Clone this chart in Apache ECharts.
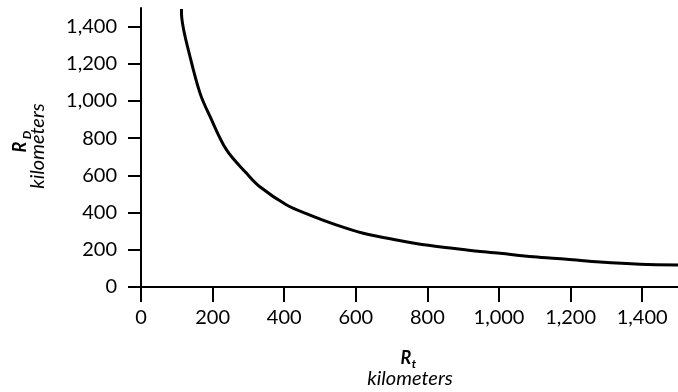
<!DOCTYPE html>
<html>
<head>
<meta charset="utf-8">
<script src="https://cdn.jsdelivr.net/npm/echarts@6/dist/echarts.min.js"></script>
<style>
html,body{margin:0;padding:0;background:#fff;}
#chart{width:678px;height:392px;}
</style>
</head>
<body>
<div id="chart"></div>
<script>
// Data
var rtKm = [113, 114, 137, 165, 193, 239, 295, 332, 407, 472, 547, 621, 714, 803, 910, 1003, 1096, 1189, 1282, 1394, 1500];
var rdKm = [1495, 1444, 1238, 1041, 916, 737, 611, 539, 441, 387, 333, 289, 253, 224, 199, 181, 162, 149, 134, 122, 118];
var xTicks = [0, 200, 400, 600, 800, 1000, 1200, 1400];
var yTicks = [0, 200, 400, 600, 800, 1000, 1200, 1400];

var FONT = 'Lato, "DejaVu Sans", sans-serif';
var points = rtKm.map(function (v, i) { return [v, rdKm[i]]; });
function fmt(v) { return String(v).replace(/\B(?=(\d{3})+(?!\d))/g, ','); }

var chart = echarts.init(document.getElementById('chart'), null, {renderer: 'canvas'});
chart.setOption({
  animation: false,
  backgroundColor: '#fff',
  grid: {left: 141, right: -5, top: 8, bottom: 105, containLabel: false},
  xAxis: {
    type: 'value', min: 0, max: 1500, interval: 200,
    axisLine: {show: true, onZero: false, lineStyle: {color: '#000', width: 2}},
    axisTick: {show: true, length: 15, lineStyle: {color: '#000', width: 2}, customValues: xTicks},
    axisLabel: {show: true, color: '#000', fontFamily: FONT, fontSize: 20, margin: 21, customValues: xTicks, formatter: fmt},
    splitLine: {show: false}
  },
  yAxis: {
    type: 'value', min: 0, max: 1500, interval: 200,
    axisLine: {show: true, onZero: false, lineStyle: {color: '#000', width: 2}},
    axisTick: {show: true, length: 13, lineStyle: {color: '#000', width: 2}, customValues: yTicks},
    axisLabel: {show: true, color: '#000', fontFamily: FONT, fontSize: 20, margin: 24, customValues: yTicks, formatter: fmt},
    splitLine: {show: false}
  },
  series: [{
    type: 'line',
    data: points,
    symbol: 'none',
    smooth: 0.35,
    clip: true,
    lineStyle: {color: '#000', width: 3}
  }],
  graphic: [
    {type: 'text', x: 406, y: 358, style: {text: 'R', font: 'italic bold 18px ' + FONT, fill: '#000', align: 'center', verticalAlign: 'middle'}},
    {type: 'text', x: 414, y: 364, style: {text: 't', font: 'italic bold 12px ' + FONT, fill: '#000', align: 'center', verticalAlign: 'middle'}},
    {type: 'text', x: 410, y: 379, style: {text: 'kilometers', font: 'italic 20px ' + FONT, fill: '#000', align: 'center', verticalAlign: 'middle'}},
    {type: 'text', x: 20, y: 147, rotation: Math.PI / 2, style: {text: 'R', font: 'italic bold 18px ' + FONT, fill: '#000', align: 'center', verticalAlign: 'middle'}},
    {type: 'text', x: 27, y: 135, rotation: Math.PI / 2, style: {text: 'D', font: 'italic bold 12px ' + FONT, fill: '#000', align: 'center', verticalAlign: 'middle'}},
    {type: 'text', x: 38, y: 146, rotation: Math.PI / 2, style: {text: 'kilometers', font: 'italic 20px ' + FONT, fill: '#000', align: 'center', verticalAlign: 'middle'}}
  ]
});
</script>
</body>
</html>
